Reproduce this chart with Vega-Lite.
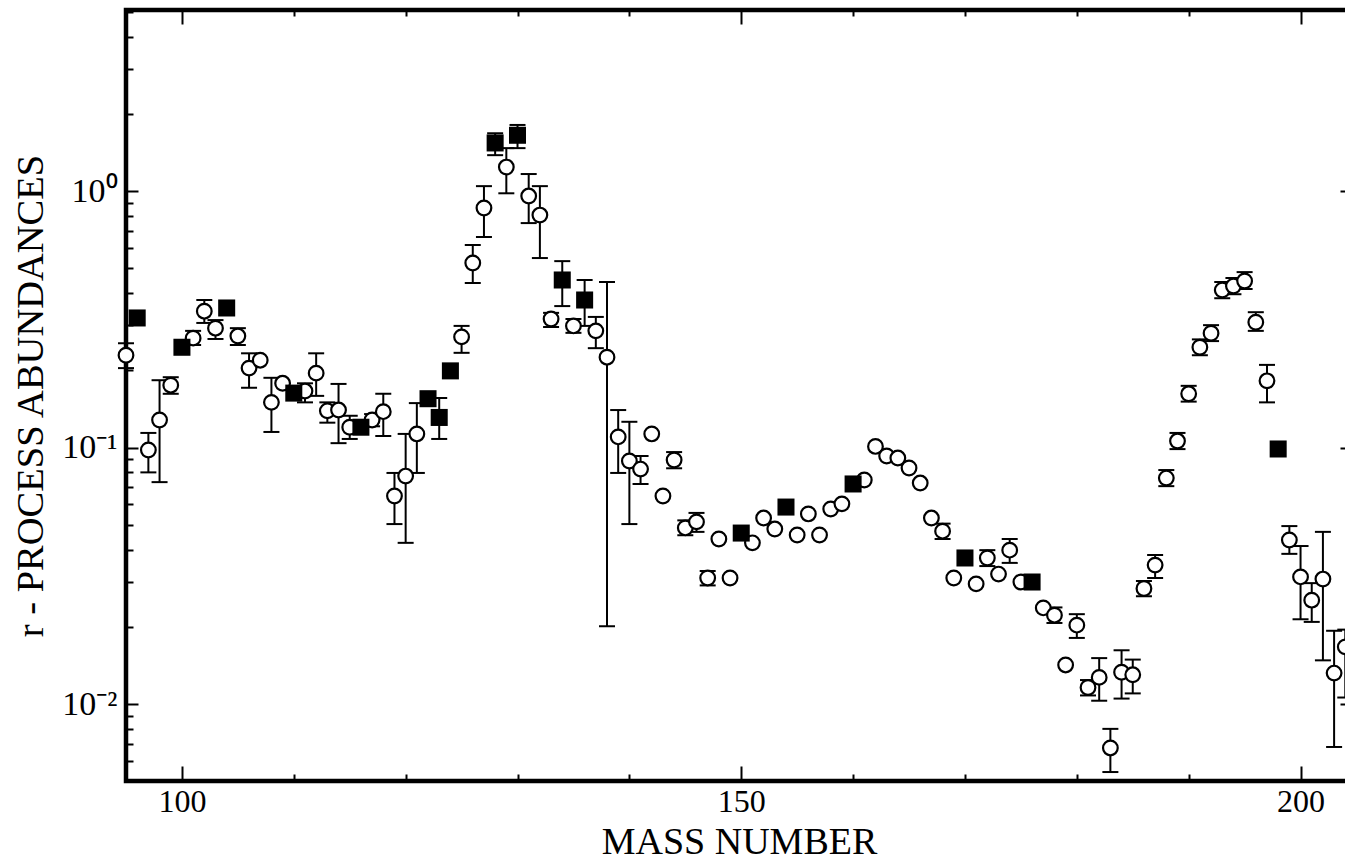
{
  "$schema": "https://vega.github.io/schema/vega-lite/v6.json",
  "width": 1226,
  "height": 771,
  "autosize": {"type": "none"},
  "padding": {"left": 126, "top": 10, "right": 0, "bottom": 80},
  "background": "white",
  "config": {
    "view": {"stroke": "black", "strokeWidth": 4.5},
    "axis": {"grid": false, "domain": false, "tickColor": "black", "tickWidth": 2, "labelFont": "Liberation Serif", "titleFont": "Liberation Serif", "labelColor": "black", "titleColor": "black", "titleFontWeight": "normal"}
  },
  "data": {"values": [
    {"A":95,"v":0.229,"lo":0.204,"hi":0.255,"t":"o"},
    {"A":96,"v":0.320,"t":"f"},
    {"A":97,"v":0.0978,"lo":0.080,"hi":0.114,"t":"o"},
    {"A":98,"v":0.128,"lo":0.0733,"hi":0.183,"t":"o"},
    {"A":99,"v":0.175,"lo":0.162,"hi":0.188,"t":"o"},
    {"A":100,"v":0.246,"t":"f"},
    {"A":101,"v":0.267,"lo":0.251,"hi":0.285,"t":"o"},
    {"A":102,"v":0.340,"lo":0.306,"hi":0.376,"t":"o"},
    {"A":103,"v":0.292,"lo":0.265,"hi":0.314,"t":"o"},
    {"A":104,"v":0.350,"t":"f"},
    {"A":105,"v":0.272,"lo":0.251,"hi":0.292,"t":"o"},
    {"A":106,"v":0.204,"lo":0.171,"hi":0.233,"t":"o"},
    {"A":107,"v":0.219,"t":"o"},
    {"A":108,"v":0.150,"lo":0.115,"hi":0.187,"t":"o"},
    {"A":109,"v":0.178,"t":"o"},
    {"A":110,"v":0.163,"t":"f"},
    {"A":111,"v":0.166,"lo":0.150,"hi":0.178,"t":"o"},
    {"A":112,"v":0.195,"lo":0.159,"hi":0.233,"t":"o"},
    {"A":113,"v":0.139,"lo":0.125,"hi":0.150,"t":"o"},
    {"A":114,"v":0.140,"lo":0.104,"hi":0.177,"t":"o"},
    {"A":115,"v":0.120,"lo":0.108,"hi":0.133,"t":"o"},
    {"A":116,"v":0.120,"t":"f"},
    {"A":117,"v":0.128,"lo":0.121,"hi":0.135,"t":"o"},
    {"A":118,"v":0.138,"lo":0.111,"hi":0.162,"t":"o"},
    {"A":119,"v":0.0647,"lo":0.0503,"hi":0.0796,"t":"o"},
    {"A":120,"v":0.0774,"lo":0.0425,"hi":0.113,"t":"o"},
    {"A":121,"v":0.113,"lo":0.0796,"hi":0.149,"t":"o"},
    {"A":122,"v":0.155,"t":"f"},
    {"A":123,"v":0.131,"lo":0.108,"hi":0.156,"t":"f"},
    {"A":124,"v":0.199,"t":"f"},
    {"A":125,"v":0.270,"lo":0.234,"hi":0.298,"t":"o"},
    {"A":126,"v":0.524,"lo":0.438,"hi":0.616,"t":"o"},
    {"A":127,"v":0.859,"lo":0.662,"hi":1.045,"t":"o"},
    {"A":128,"v":1.54,"lo":1.38,"hi":1.68,"t":"f"},
    {"A":129,"v":1.24,"lo":0.98,"hi":1.47,"t":"o"},
    {"A":130,"v":1.65,"lo":1.47,"hi":1.81,"t":"f"},
    {"A":131,"v":0.956,"lo":0.75,"hi":1.165,"t":"o"},
    {"A":132,"v":0.806,"lo":0.548,"hi":1.045,"t":"o"},
    {"A":133,"v":0.317,"lo":0.295,"hi":0.335,"t":"o"},
    {"A":134,"v":0.450,"lo":0.356,"hi":0.533,"t":"f"},
    {"A":135,"v":0.298,"lo":0.280,"hi":0.317,"t":"o"},
    {"A":136,"v":0.376,"lo":0.298,"hi":0.450,"t":"f"},
    {"A":137,"v":0.285,"lo":0.244,"hi":0.323,"t":"o"},
    {"A":138,"v":0.225,"lo":0.0201,"hi":0.442,"t":"o"},
    {"A":139,"v":0.110,"lo":0.0796,"hi":0.140,"t":"o"},
    {"A":140,"v":0.0886,"lo":0.0503,"hi":0.126,"t":"o"},
    {"A":141,"v":0.0824,"lo":0.0721,"hi":0.0927,"t":"o"},
    {"A":142,"v":0.113,"t":"o"},
    {"A":143,"v":0.0647,"t":"o"},
    {"A":144,"v":0.0894,"lo":0.083,"hi":0.096,"t":"o"},
    {"A":145,"v":0.0486,"lo":0.0455,"hi":0.052,"t":"o"},
    {"A":146,"v":0.0513,"lo":0.0469,"hi":0.0556,"t":"o"},
    {"A":147,"v":0.0310,"lo":0.029,"hi":0.033,"t":"o"},
    {"A":148,"v":0.0440,"t":"o"},
    {"A":149,"v":0.0310,"t":"o"},
    {"A":150,"v":0.0464,"t":"f"},
    {"A":151,"v":0.0425,"t":"o"},
    {"A":152,"v":0.0531,"t":"o"},
    {"A":153,"v":0.0481,"t":"o"},
    {"A":154,"v":0.0586,"t":"f"},
    {"A":155,"v":0.0456,"t":"o"},
    {"A":156,"v":0.0551,"t":"o"},
    {"A":157,"v":0.0456,"t":"o"},
    {"A":158,"v":0.0576,"t":"o"},
    {"A":159,"v":0.0603,"t":"o"},
    {"A":160,"v":0.0721,"t":"f"},
    {"A":161,"v":0.0747,"t":"o"},
    {"A":162,"v":0.101,"t":"o"},
    {"A":163,"v":0.0927,"t":"o"},
    {"A":164,"v":0.091,"t":"o"},
    {"A":165,"v":0.0832,"t":"o"},
    {"A":166,"v":0.0727,"t":"o"},
    {"A":167,"v":0.0531,"t":"o"},
    {"A":168,"v":0.0472,"lo":0.044,"hi":0.0505,"t":"o"},
    {"A":169,"v":0.031,"t":"o"},
    {"A":170,"v":0.0371,"t":"f"},
    {"A":171,"v":0.0294,"t":"o"},
    {"A":172,"v":0.0371,"lo":0.0345,"hi":0.0398,"t":"o"},
    {"A":173,"v":0.0321,"t":"o"},
    {"A":174,"v":0.0398,"lo":0.0355,"hi":0.044,"t":"o"},
    {"A":175,"v":0.0299,"t":"o"},
    {"A":176,"v":0.0299,"t":"f"},
    {"A":177,"v":0.0237,"t":"o"},
    {"A":178,"v":0.0222,"lo":0.0207,"hi":0.0238,"t":"o"},
    {"A":179,"v":0.0142,"t":"o"},
    {"A":180,"v":0.0203,"lo":0.0181,"hi":0.0224,"t":"o"},
    {"A":181,"v":0.0116,"lo":0.0108,"hi":0.0124,"t":"o"},
    {"A":182,"v":0.0127,"lo":0.0103,"hi":0.0151,"t":"o"},
    {"A":183,"v":0.00674,"lo":0.00543,"hi":0.0080,"t":"o"},
    {"A":184,"v":0.0133,"lo":0.0105,"hi":0.0162,"t":"o"},
    {"A":185,"v":0.0130,"lo":0.0110,"hi":0.0149,"t":"o"},
    {"A":186,"v":0.0282,"lo":0.0263,"hi":0.0302,"t":"o"},
    {"A":187,"v":0.0348,"lo":0.031,"hi":0.0381,"t":"o"},
    {"A":188,"v":0.0760,"lo":0.0707,"hi":0.0817,"t":"o"},
    {"A":189,"v":0.106,"lo":0.0986,"hi":0.114,"t":"o"},
    {"A":190,"v":0.162,"lo":0.151,"hi":0.174,"t":"o"},
    {"A":191,"v":0.246,"lo":0.229,"hi":0.264,"t":"o"},
    {"A":192,"v":0.279,"lo":0.260,"hi":0.300,"t":"o"},
    {"A":193,"v":0.411,"lo":0.382,"hi":0.442,"t":"o"},
    {"A":194,"v":0.426,"lo":0.396,"hi":0.458,"t":"o"},
    {"A":195,"v":0.446,"lo":0.415,"hi":0.483,"t":"o"},
    {"A":196,"v":0.308,"lo":0.285,"hi":0.337,"t":"o"},
    {"A":197,"v":0.182,"lo":0.150,"hi":0.210,"t":"o"},
    {"A":198,"v":0.0987,"t":"f"},
    {"A":199,"v":0.0436,"lo":0.0385,"hi":0.0494,"t":"o"},
    {"A":200,"v":0.0313,"lo":0.0214,"hi":0.0413,"t":"o"},
    {"A":201,"v":0.0254,"lo":0.0209,"hi":0.0296,"t":"o"},
    {"A":202,"v":0.0307,"lo":0.0148,"hi":0.0469,"t":"o"},
    {"A":203,"v":0.0132,"lo":0.0068,"hi":0.0193,"t":"o"},
    {"A":204,"v":0.0167,"lo":0.0106,"hi":0.0195,"t":"o"}
  ]},
  "layer": [
    {
      "transform": [{"filter": "isValid(datum.lo)"}],
      "mark": {"type": "rule", "color": "black", "strokeWidth": 2, "opacity": 1},
      "encoding": {
        "x": {"field": "A", "type": "quantitative", "scale": {"domain": [95, 204.6], "nice": false, "zero": false},
              "axis": {"orient": "bottom", "values": [100, 150, 200], "tickSize": -15, "labelFontSize": 32, "labelPadding": 20, "labelBaseline": "top", "title": "MASS  NUMBER", "titleFontSize": 38, "titlePadding": 6}},
        "y": {"field": "lo", "type": "quantitative", "scale": {"type": "log", "domain": [0.00501, 5.08], "nice": false},
              "axis": {"orient": "left", "values": [0.01, 0.1, 1], "tickSize": -12, "labelFontSize": 34, "labelPadding": 21, "labelExpr": "datum.value > 0.5 ? '10⁰' : datum.value > 0.05 ? '10⁻¹' : '10⁻²'", "title": "r - PROCESS  ABUNDANCES", "titleFontSize": 38.5, "titlePadding": 11}},
        "y2": {"field": "hi"}
      }
    },
    {
      "transform": [{"filter": "isValid(datum.lo)"}],
      "mark": {"type": "tick", "orient": "horizontal", "color": "black", "size": 16, "thickness": 2, "opacity": 1},
      "encoding": {
        "x": {"field": "A", "type": "quantitative",
              "axis": {"orient": "bottom", "values": [110, 120, 130, 140, 160, 170, 180, 190], "tickSize": -7, "labels": false, "title": null}},
        "y": {"field": "lo", "type": "quantitative",
              "axis": {"orient": "left", "values": [0.006, 0.007, 0.008, 0.009, 0.02, 0.03, 0.04, 0.05, 0.06, 0.07, 0.08, 0.09, 0.2, 0.3, 0.4, 0.5, 0.6, 0.7, 0.8, 0.9, 2, 3, 4, 5], "tickSize": -7, "labels": false, "title": null}}
      }
    },
    {
      "transform": [{"filter": "isValid(datum.hi)"}],
      "mark": {"type": "tick", "orient": "horizontal", "color": "black", "size": 16, "thickness": 2, "opacity": 1},
      "encoding": {
        "x": {"field": "A", "type": "quantitative",
              "axis": {"orient": "top", "values": [100, 150, 200], "tickSize": -14, "labels": false, "title": null}},
        "y": {"field": "hi", "type": "quantitative",
              "axis": {"orient": "right", "values": [0.01, 0.1, 1], "tickSize": -12, "labels": false, "title": null}}
      }
    },
    {
      "transform": [{"filter": "datum.t == 'o'"}],
      "mark": {"type": "point", "shape": "circle", "filled": true, "fill": "white", "stroke": "black", "strokeWidth": 2.2, "size": 215, "opacity": 1},
      "encoding": {
        "x": {"field": "A", "type": "quantitative",
              "axis": {"orient": "top", "values": [110, 120, 130, 140, 160, 170, 180, 190], "tickSize": -6, "labels": false, "title": null}},
        "y": {"field": "v", "type": "quantitative",
              "axis": {"orient": "right", "values": [0.006, 0.007, 0.008, 0.009, 0.02, 0.03, 0.04, 0.05, 0.06, 0.07, 0.08, 0.09, 0.2, 0.3, 0.4, 0.5, 0.6, 0.7, 0.8, 0.9, 2, 3, 4, 5], "tickSize": -7, "labels": false, "title": null}}
      }
    },
    {
      "transform": [{"filter": "datum.t == 'f'"}],
      "mark": {"type": "point", "shape": "square", "filled": true, "fill": "black", "strokeWidth": 0, "size": 290, "opacity": 1},
      "encoding": {
        "x": {"field": "A", "type": "quantitative", "axis": null},
        "y": {"field": "v", "type": "quantitative", "axis": null}
      }
    }
  ],
  "resolve": {"axis": {"x": "independent", "y": "independent"}}
}
